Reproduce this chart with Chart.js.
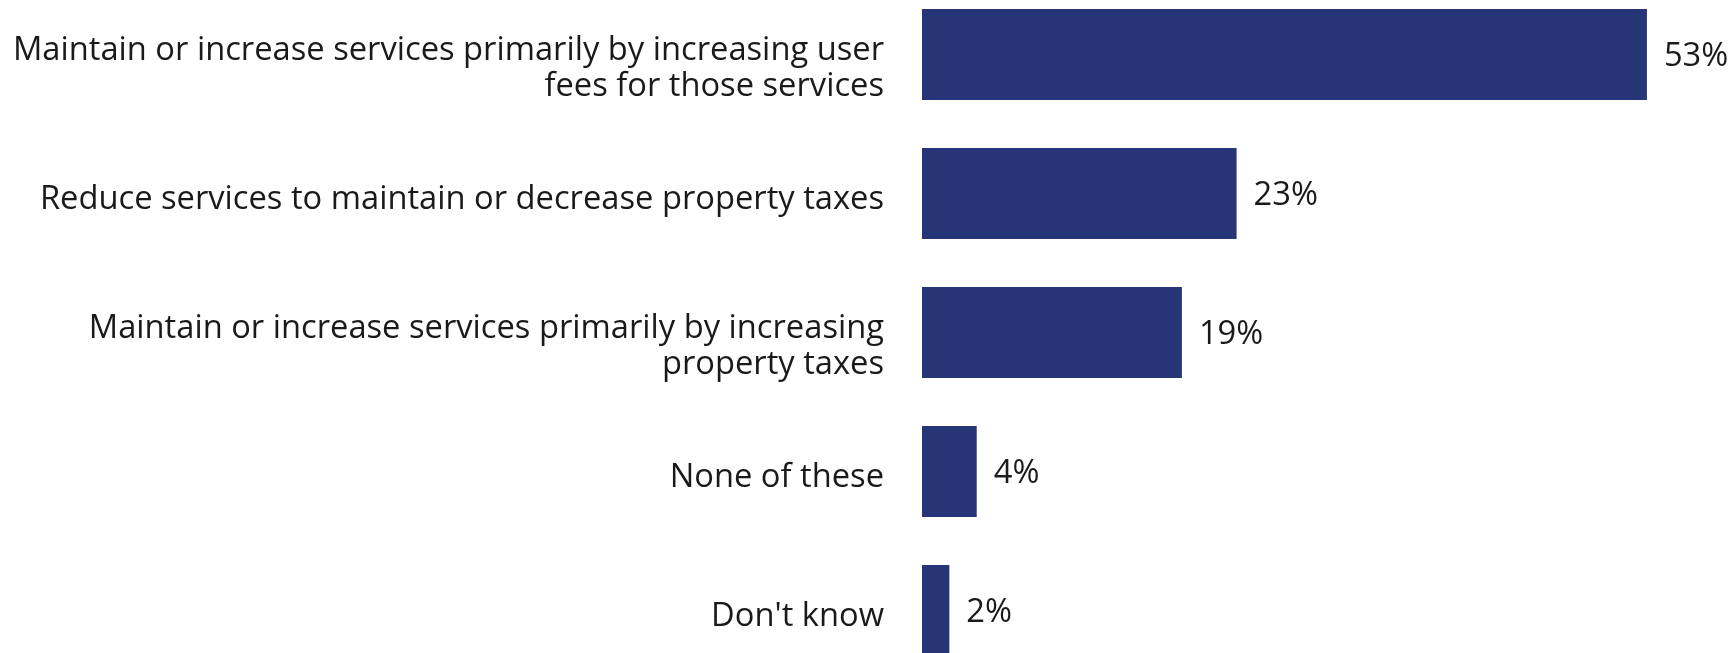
<!DOCTYPE html>
<html>
<head>
<meta charset="utf-8">
<script src="https://cdn.jsdelivr.net/npm/chart.js@4"></script>
<style>
  html, body { margin: 0; padding: 0; background: #fff; overflow: hidden; }
  #wrap { position: absolute; left: 0; top: -15px; width: 1729px; height: 695px; }
</style>
</head>
<body>
<div id="wrap"><canvas id="chart"></canvas></div>
<script>
// Survey answers and their shares (%)
const answers = [
    ['Maintain or increase services primarily by increasing user', 'fees for those services'],
    ['Reduce services to maintain or decrease property taxes'],
    ['Maintain or increase services primarily by increasing', 'property taxes'],
    ['None of these'],
    ["Don't know"]
];
const shares = [53, 23, 19, 4, 2];

const barColor = '#253575';
const textColor = '#1a1a1a';
const font = '32.7px "Open Sans", sans-serif';
const lineGap = 36;

// Category text right-aligned before the bars, value text after each bar
const barText = {
    id: 'barText',
    afterDatasetsDraw(chart) {
        const ctx = chart.ctx;
        const meta = chart.getDatasetMeta(0);
        const left = chart.chartArea.left;
        ctx.save();
        ctx.font = font;
        ctx.fillStyle = textColor;
        ctx.textBaseline = 'middle';
        meta.data.forEach((bar, i) => {
            const lines = answers[i];
            const shift = lines.length > 1 ? 14 : 6;
            const top = bar.y + shift - (lines.length - 1) * lineGap / 2;
            ctx.textAlign = 'right';
            lines.forEach((line, k) => ctx.fillText(line, left - 38, top + k * lineGap));
            ctx.textAlign = 'left';
            ctx.fillText(shares[i] + '%', bar.x + 17, bar.y + 2);
        });
        ctx.restore();
    }
};

new Chart(document.getElementById('chart'), {
    type: 'bar',
    data: {
        labels: answers.map(a => a.join(' ')),
        datasets: [{
            data: shares,
            backgroundColor: barColor,
            categoryPercentage: 1,
            barPercentage: 0.655
        }]
    },
    options: {
        indexAxis: 'y',
        responsive: true,
        maintainAspectRatio: false,
        animation: false,
        layout: { padding: { left: 922, right: 0, top: 0, bottom: 0 } },
        plugins: {
            legend: { display: false },
            tooltip: { enabled: false }
        },
        scales: {
            x: { display: false, min: 0, max: 59 },
            y: { display: false }
        }
    },
    plugins: [barText]
});
</script>
</body>
</html>
